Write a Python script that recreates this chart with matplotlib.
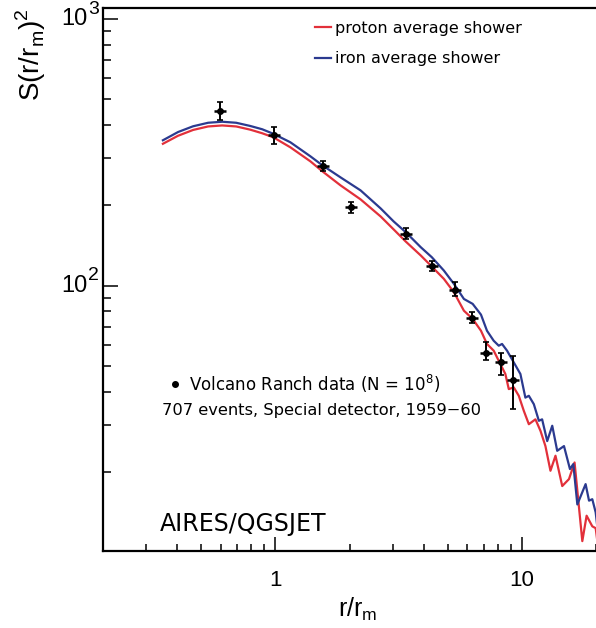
import numpy as np
import matplotlib
matplotlib.use("Agg")
import matplotlib.pyplot as plt
from matplotlib.ticker import LogLocator, NullFormatter, FixedLocator, FixedFormatter

plt.rcParams['font.family'] = ['Liberation Sans', 'DejaVu Sans']

# Volcano Ranch data points
x_data = [0.597, 0.984, 1.557, 2.02, 3.38, 4.31, 5.34, 6.29, 7.18, 8.24, 9.22]
y_data = [451, 366, 281, 197, 156.3, 118.2, 96.6, 75.8, 56.1, 51.5, 44.3]
y_low = [417, 339, 269, 187.6, 149.8, 113.2, 91.7, 72.5, 52.6, 46.2, 34.4]
y_high = [489, 393.6, 292.4, 205.6, 164, 123.4, 102.9, 79.3, 61.2, 56.1, 54.2]

# proton average shower
x_proton = [0.350, 0.403, 0.464, 0.534, 0.609, 0.694, 0.791, 0.885, 0.981, 1.151,
            1.388, 1.553, 1.839, 2.218, 2.675, 3.022, 3.382, 3.892, 4.274, 4.828,
            5.304, 5.823, 6.319, 6.830, 7.224, 7.691, 8.183, 8.576, 8.856, 9.278,
            9.723, 10.19, 10.68, 11.36, 11.91, 12.47, 13.07, 13.70, 14.59, 15.54,
            16.37, 17.60, 18.32, 19.32, 19.94, 20.2]
y_proton = [340.4, 364.8, 383.6, 395.4, 398.8, 395.4, 384.6, 372.8, 360.1, 330.2,
            292.5, 268.3, 237.7, 210.6, 181.7, 162.4, 146.3, 129.7, 118.9, 106.0,
            94.4, 80.5, 75.0, 67.7, 60.4, 57.0, 50.8, 46.6, 40.9, 41.5,
            38.6, 33.9, 30.2, 31.5, 28.5, 25.0, 20.2, 23.0, 17.7, 18.8,
            21.7, 11.0, 13.7, 12.5, 12.3, 11.2]

# iron average shower
x_iron = [0.350, 0.403, 0.464, 0.534, 0.609, 0.694, 0.791, 0.885, 0.981, 1.151,
          1.388, 1.553, 1.839, 2.218, 2.675, 3.022, 3.382, 3.892, 4.314, 4.828,
          5.304, 5.823, 6.319, 6.830, 7.224, 7.691, 8.063, 8.316, 8.712, 9.278,
          9.870, 10.34, 10.68, 11.19, 11.73, 12.09, 12.68, 13.29, 13.92, 14.83,
          15.68, 16.18, 16.80, 18.15, 18.74, 19.32, 19.94, 20.2]
y_iron = [350.9, 376.7, 396.0, 408.2, 411.8, 408.2, 397.1, 385.9, 371.2, 344.9,
          305.5, 282.6, 254.7, 227.6, 194.8, 174.0, 158.6, 139.3, 127.8, 113.9,
          101.5, 89.1, 85.4, 77.8, 67.7, 62.1, 59.5, 60.4, 57.0, 51.5,
          46.6, 38.0, 38.6, 35.9, 31.1, 31.5, 26.1, 29.8, 24.0, 25.0,
          20.5, 21.4, 15.1, 18.0, 15.6, 15.8, 14.1, 12.7]

x_ticks = [1, 10]
x_ticklabels = ['1', '10']
y_ticks = [100, 1000]
y_exponents = ['2', '3']

red = '#e2303a'
blue = '#2b3a8f'

fig = plt.figure(figsize=(5.96, 6.28), dpi=100)
ax = fig.add_axes([103 / 596, 77 / 628, 493 / 596, 543 / 628])

ax.plot(x_proton, y_proton, color=red, lw=1.6, label='proton average shower')
ax.plot(x_iron, y_iron, color=blue, lw=1.6, label='iron average shower')

y_data = np.array(y_data)
yerr = [y_data - np.array(y_low), np.array(y_high) - y_data]
ax.errorbar(x_data, y_data, yerr=yerr, fmt='o', ms=4, color='k',
            elinewidth=1.4, capsize=2, capthick=1.2, zorder=5)
ax.plot(x_data, y_data, ls='none', marker='_', ms=8, mew=1.8, color='k', zorder=5)

ax.set_xscale('log')
ax.set_yscale('log')
ax.set_xlim(0.2, 20)
ax.set_ylim(10.1, 1100)

ax.xaxis.set_major_locator(FixedLocator(x_ticks))
ax.xaxis.set_major_formatter(FixedFormatter(x_ticklabels))
ax.xaxis.set_minor_locator(LogLocator(base=10, subs=np.arange(2, 10)))
ax.xaxis.set_minor_formatter(NullFormatter())
ax.yaxis.set_major_locator(FixedLocator(y_ticks))
ax.yaxis.set_major_formatter(NullFormatter())
ax.yaxis.set_minor_locator(LogLocator(base=10, subs=np.arange(2, 10)))
ax.yaxis.set_minor_formatter(NullFormatter())

ax.tick_params(axis='x', which='major', direction='in', length=10, width=1.1,
               labelsize=16, pad=14)
ax.tick_params(axis='x', which='minor', direction='in', length=5, width=1.1)
ax.tick_params(axis='y', which='major', direction='in', length=11, width=1.1)
ax.tick_params(axis='y', which='minor', direction='in', length=5.5, width=1.1)

# ROOT-like "10^n" labels with a large exponent
ytr = ax.get_yaxis_transform()
for v, e in zip(y_ticks, y_exponents):
    ax.annotate('10', xy=(0, v), xycoords=ytr, xytext=(-11.5, 0),
                textcoords='offset points', ha='right', va='center', fontsize=17)
    ax.annotate(e, xy=(0, v), xycoords=ytr, xytext=(-11, 7),
                textcoords='offset points', ha='left', va='center', fontsize=14)

for s in ['left', 'bottom', 'top']:
    ax.spines[s].set_linewidth(1.6)
ax.spines['right'].set_visible(False)

ax.set_xlabel(r'r/r$_\mathregular{m}$', fontsize=18)
ax.xaxis.set_label_coords(0.517, -0.083)
ax.set_ylabel(r'S(r/r$_\mathregular{m}$)$^\mathregular{2}$', fontsize=20, loc='top')
ax.yaxis.set_label_coords(-0.112, 1.0)

ax.legend(loc='upper left', bbox_to_anchor=(0.4, 1.003), frameon=False,
          handlelength=1.0, handletextpad=0.3, labelspacing=0.98,
          prop={'family': 'DejaVu Sans', 'size': 11.5})

ax.plot([0.392], [42.8], 'o', ms=4, color='k')
ax.text(0.4466, 42.8, r'Volcano Ranch data (N = 10$^\mathregular{8}$)', fontsize=12,
        family='DejaVu Sans', va='center')
ax.text(0.347, 33.9, '707 events, Special detector, 1959\u221260', fontsize=11.7,
        family='DejaVu Sans', va='center')
ax.text(0.340, 12.7, 'AIRES/QGSJET', fontsize=17, family='DejaVu Sans', va='center')

fig.savefig('out.png', dpi=100)
